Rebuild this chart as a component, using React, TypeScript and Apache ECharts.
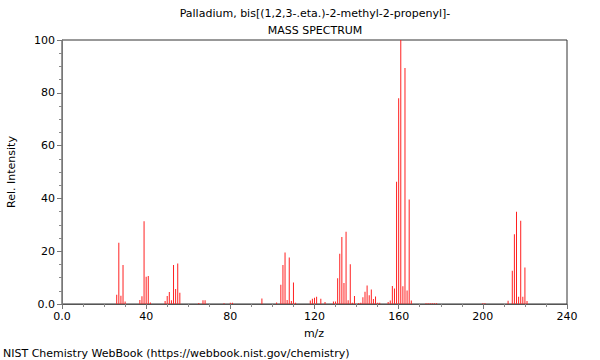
import React, { useEffect, useRef } from "react";
import * as echarts from "echarts";

const titleLines = ["Palladium, bis[(1,2,3-.eta.)-2-methyl-2-propenyl]-", "MASS SPECTRUM"];
const xAxisName = "m/z";
const yAxisName = "Rel. Intensity";
const footer = "NIST Chemistry WebBook (https://webbook.nist.gov/chemistry)";

const mz = [
  26, 27, 28, 29, 30, 37, 38, 39, 40, 41, 42, 49, 50, 51, 52, 53, 54, 55, 56,
  65, 67, 68, 77, 80, 81, 95, 102, 104, 105, 106, 107, 108, 109, 110, 111,
  118, 119, 120, 121, 123, 125, 129, 130, 131, 132, 133, 134, 135, 136, 137, 138, 139,
  141, 142, 143, 144, 145, 146, 147, 148, 149, 150, 151,
  155, 156, 157, 158, 159, 160, 161, 162, 163, 164, 165, 166,
  173, 174, 175, 176, 177, 178, 200, 201,
  212, 214, 215, 216, 217, 218, 219, 220, 221,
];
const intensity = [
  3.5, 23.2, 3.1, 14.8, 0.9, 1.5, 2.9, 31.3, 10.3, 10.6, 0.6, 1.1, 3.0, 4.5, 1.4, 14.8, 5.7, 15.3, 4.3,
  0.4, 1.4, 1.4, 0.3, 0.5, 0.5, 2.1, 0.6, 7.3, 14.8, 19.5, 1.5, 17.6, 1.1, 8.1, 0.5,
  1.3, 2.0, 2.4, 2.7, 2.0, 0.8, 0.9, 0.9, 9.8, 19.0, 25.4, 8.0, 27.4, 1.4, 15.1, 0.5, 3.0,
  0.4, 0.5, 2.6, 4.6, 7.0, 3.3, 5.5, 1.9, 2.8, 0.5, 0.5,
  0.8, 1.3, 6.8, 5.9, 46.3, 77.9, 100, 6.7, 89.4, 5.1, 39.6, 1.3,
  0.3, 0.3, 0.3, 0.3, 0.3, 0.3, 0.3, 0.3,
  1.2, 12.6, 26.4, 34.9, 2.7, 31.5, 2.7, 13.8, 1.1,
];

const FONT = "DejaVu Sans";

export default function App() {
  const ref = useRef<HTMLDivElement>(null);
  useEffect(() => {
    if (!ref.current) return;
    const chart = echarts.init(ref.current, undefined, { renderer: "svg" });
    const fmt = (v: number) => (v === 0 ? "0.0" : String(v));
    chart.setOption({
      animation: false,
      backgroundColor: "#fff",
      grid: {
        left: 62,
        right: 33,
        top: 40,
        bottom: 56,
        show: true,
        borderColor: "#333",
        borderWidth: 1,
        backgroundColor: "transparent",
      },
      xAxis: {
        type: "value",
        min: 0,
        max: 240,
        interval: 40,
        axisLine: { show: true, lineStyle: { color: "#555" } },
        axisTick: { show: true, length: 5, lineStyle: { color: "#777" } },
        minorTick: { show: true, splitNumber: 4, length: 3, lineStyle: { color: "#888" } },
        splitLine: { show: false },
        axisLabel: { formatter: fmt, fontFamily: FONT, fontSize: 11, color: "#000", margin: 7 },
      },
      yAxis: {
        type: "value",
        min: 0,
        max: 100,
        interval: 20,
        axisLine: { show: true, lineStyle: { color: "#777" } },
        axisTick: { show: true, length: 5, lineStyle: { color: "#777" } },
        minorTick: { show: true, splitNumber: 4, length: 3, lineStyle: { color: "#888" } },
        splitLine: { show: false },
        axisLabel: { formatter: fmt, fontFamily: FONT, fontSize: 11, color: "#000", margin: 7 },
      },
      series: [
        {
          type: "bar",
          data: mz.map((m, i) => [m, intensity[i]]),
          barWidth: 1,
          itemStyle: { color: "#ff2020" },
          silent: true,
        },
      ],
      graphic: [
        {
          type: "text",
          x: 315,
          y: 13,
          style: { text: titleLines[0], font: `11px "${FONT}"`, fill: "#000", textAlign: "center", textVerticalAlign: "middle" },
        },
        {
          type: "text",
          x: 315,
          y: 30,
          style: { text: titleLines[1], font: `11px "${FONT}"`, fill: "#000", textAlign: "center", textVerticalAlign: "middle" },
        },
        {
          type: "text",
          x: 314,
          y: 333,
          style: { text: xAxisName, font: `11px "${FONT}"`, fill: "#000", textAlign: "center", textVerticalAlign: "middle" },
        },
        {
          type: "text",
          x: 11,
          y: 172,
          rotation: Math.PI / 2,
          style: { text: yAxisName, font: `11px "${FONT}"`, fill: "#000", textAlign: "center", textVerticalAlign: "middle" },
        },
        {
          type: "text",
          x: 3,
          y: 353,
          style: { text: footer, font: `11px "${FONT}"`, fill: "#000", textAlign: "left", textVerticalAlign: "middle" },
        },
      ],
    });
    return () => chart.dispose();
  }, []);
  return <div ref={ref} style={{ width: 600, height: 360, position: "absolute", left: 0, top: 0 }} />;
}
